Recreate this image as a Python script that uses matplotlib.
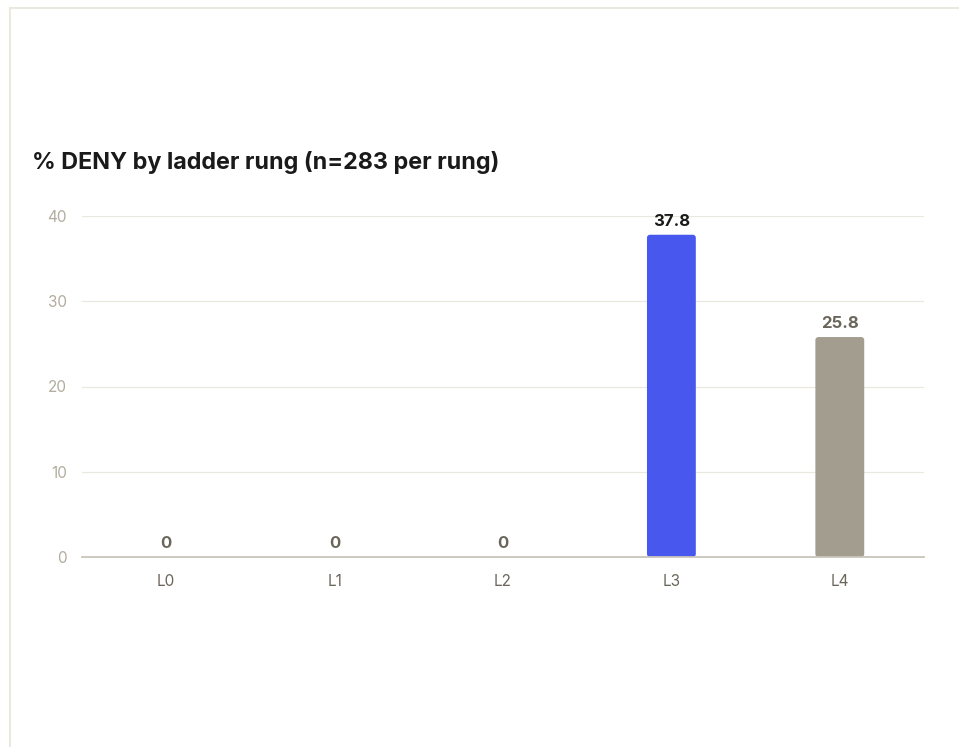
import matplotlib.pyplot as plt
from matplotlib.patches import FancyBboxPatch
from matplotlib.lines import Line2D

rungs = ["L0", "L1", "L2", "L3", "L4"]
deny_pct = [0, 0, 0, 37.8, 25.8]
bar_colors = ["#a39d90", "#a39d90", "#a39d90", "#4858ee", "#a39d90"]
label_colors = ["#6b665c", "#6b665c", "#6b665c", "#1a1a1a", "#6b665c"]
yticks = [0, 10, 20, 30, 40]

plt.rcParams["font.family"] = ["Inter", "DejaVu Sans"]

fig = plt.figure(figsize=(9.59, 7.47), dpi=100)
ax = fig.add_axes([82 / 959, 1 - 557 / 747, (924 - 82) / 959, (557 - 216) / 747])

# panel border (top + left only)
fig.add_artist(Line2D([10 / 959, 10 / 959], [0, 1 - 8 / 747], transform=fig.transFigure,
                      color="#ebe8df", lw=1.5))
fig.add_artist(Line2D([10 / 959, 1], [1 - 8 / 747, 1 - 8 / 747], transform=fig.transFigure,
                      color="#ebe8df", lw=1.5))

x = list(range(len(rungs)))
bars = ax.bar(x, deny_pct, width=0.29, color=bar_colors, zorder=3)

# swap plain rectangles for slightly rounded ones
px_x = (924 - 82) / 5.0
px_y = (557 - 216) / 40.0
for b, c in zip(bars, bar_colors):
    b.set_visible(False)
    if b.get_height() <= 0:
        continue
    r = 3.0 / px_x
    p = FancyBboxPatch((b.get_x(), b.get_y()), b.get_width(), b.get_height(),
                       boxstyle=f"round,pad=0,rounding_size={r}",
                       mutation_aspect=px_x / px_y, fc=c, ec="none", zorder=3)
    ax.add_patch(p)

for xi, v, lc in zip(x, deny_pct, label_colors):
    ax.annotate(f"{v:g}", (xi, v), xytext=(0, 4.5), textcoords="offset points",
                ha="center", va="bottom", fontsize=12, fontweight="bold",
                color=lc, annotation_clip=False)

ax.set_xlim(-0.5, 4.5)
ax.set_ylim(0, 40)
ax.set_yticks(yticks)
ax.set_xticks(x)
ax.set_xticklabels(rungs)
ax.grid(axis="y", color="#ebe8df", lw=0.9, zorder=0)
ax.set_axisbelow(True)
for s in ["top", "right", "left"]:
    ax.spines[s].set_visible(False)
ax.spines["bottom"].set_color("#c9c5bc")
ax.spines["bottom"].set_linewidth(1.3)
ax.spines["bottom"].set_zorder(4)
ax.tick_params(axis="x", length=0, pad=12, labelsize=11, labelcolor="#6b665c")
ax.tick_params(axis="y", length=0, pad=11, labelsize=11, labelcolor="#b3ad9f")

fig.text(32 / 959, 1 - 162 / 747, "% DENY by ladder rung (n=283 per rung)",
         fontsize=16.8, fontweight="bold", color="#1a1a1a", va="center", ha="left")

fig.savefig("out.png", dpi=100, facecolor="white")
